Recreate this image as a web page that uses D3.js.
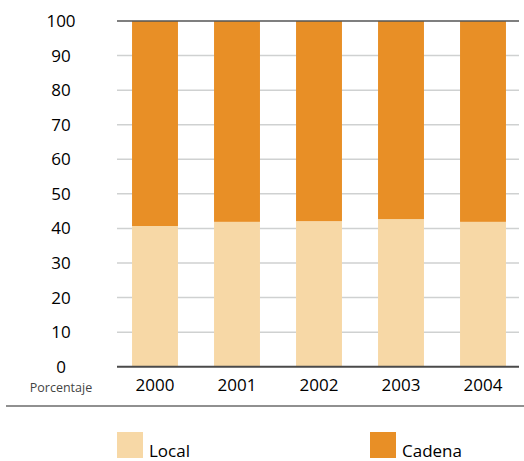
<!DOCTYPE html>
<html>
<head>
<meta charset="utf-8">
<script src="https://cdn.jsdelivr.net/npm/d3@7"></script>
<style>
  html, body { margin: 0; padding: 0; background: #fff; }
  svg { display: block; font-family: "Open Sans", "DejaVu Sans", sans-serif; }
</style>
</head>
<body>
<svg id="chart" width="524" height="461"></svg>
<script>
// Share of establishments by type, per year (percent)
const years = ["2000", "2001", "2002", "2003", "2004"];
const localValues = [40.7, 41.9, 42.1, 42.7, 41.9];
const cadenaValues = [59.3, 58.1, 57.9, 57.3, 58.1];
const yTicks = [0, 10, 20, 30, 40, 50, 60, 70, 80, 90, 100];
const seriesNames = ["Local", "Cadena"];
const seriesColors = ["#F7D8A6", "#E88F26"];

const svg = d3.select("#chart");
const textFont = "'Open Sans', 'DejaVu Sans', sans-serif";

const x = d3.scaleBand().domain(years).range([114, 524]).paddingInner(0.44).paddingOuter(0.22);
const y = d3.scaleLinear().domain([0, 100]).range([366.7, 21]);

const plotLeft = 117, plotRight = 519;

// gridlines
svg.append("g").selectAll("line")
  .data(yTicks.filter(t => t !== 0 && t !== 100))
  .join("line")
  .attr("x1", plotLeft).attr("x2", plotRight)
  .attr("y1", d => y(d)).attr("y2", d => y(d))
  .attr("stroke", "#cfd1d1").attr("stroke-width", 1.5);

// stacked bars
const rows = years.map((yr, i) => ({ year: yr, Local: localValues[i], Cadena: cadenaValues[i] }));
const stacked = d3.stack().keys(seriesNames)(rows);

svg.append("g").selectAll("g")
  .data(stacked)
  .join("g")
  .attr("fill", (d, i) => seriesColors[i])
  .selectAll("rect")
  .data(d => d)
  .join("rect")
  .attr("x", d => x(d.data.year))
  .attr("width", x.bandwidth())
  .attr("y", d => y(d[1]))
  .attr("height", d => y(d[0]) - y(d[1]));

// top and base lines
svg.append("line")
  .attr("x1", plotLeft).attr("x2", plotRight)
  .attr("y1", y(100)).attr("y2", y(100))
  .attr("stroke", "#555").attr("stroke-width", 1.6);
svg.append("line")
  .attr("x1", plotLeft).attr("x2", plotRight)
  .attr("y1", y(0)).attr("y2", y(0))
  .attr("stroke", "#4a4a4a").attr("stroke-width", 2);

// y-axis labels
const yAxis = d3.axisLeft(y).tickValues(yTicks).tickSize(0).tickFormat(d3.format("d"));
const yg = svg.append("g").attr("transform", "translate(61,0)").call(yAxis);
yg.select(".domain").remove();
yg.selectAll("text")
  .attr("x", 0).attr("text-anchor", "middle")
  .attr("font-size", 17).attr("font-weight", 500).attr("fill", "#000")
  .attr("font-family", textFont);

// x-axis labels
const xAxis = d3.axisBottom(x).tickSize(0);
const xg = svg.append("g").attr("transform", "translate(0,379)").call(xAxis);
xg.select(".domain").remove();
xg.selectAll("text")
  .attr("y", 0).attr("dy", "0.71em")
  .attr("font-size", 17).attr("font-weight", 500).attr("fill", "#000")
  .attr("font-family", textFont);

// unit label
svg.append("text")
  .attr("x", 61).attr("y", 388).attr("dy", "0.35em")
  .attr("text-anchor", "middle")
  .attr("font-size", 12.5).attr("fill", "#444")
  .text("Porcentaje");

// separator rule
svg.append("line")
  .attr("x1", 6).attr("x2", 524)
  .attr("y1", 406).attr("y2", 406)
  .attr("stroke", "#222").attr("stroke-width", 1.2);

// legend
const legendX = [117, 370];
const legend = svg.append("g").selectAll("g")
  .data(seriesNames)
  .join("g")
  .attr("transform", (d, i) => `translate(${legendX[i]},432)`);
legend.append("rect")
  .attr("width", 26).attr("height", 26)
  .attr("fill", (d, i) => seriesColors[i]);
legend.append("text")
  .attr("x", 32).attr("y", 25)
  .attr("font-size", 17).attr("font-weight", 500).attr("fill", "#000")
  .text(d => d);
</script>
</body>
</html>
